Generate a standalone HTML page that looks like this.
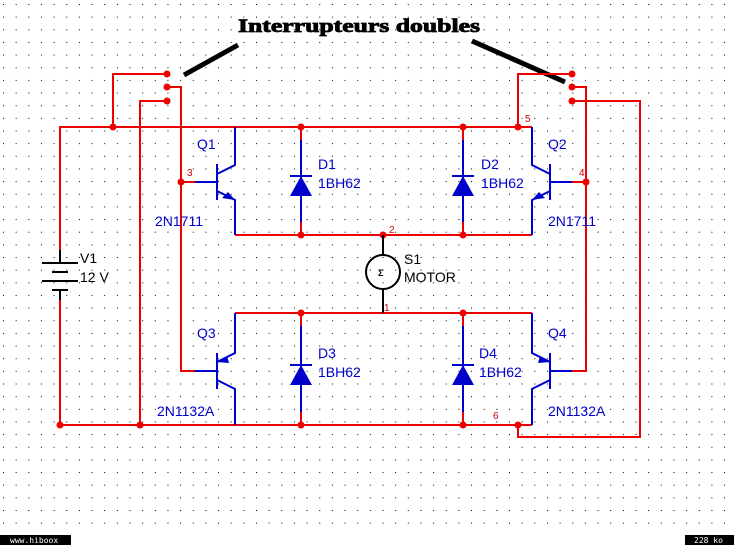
<!DOCTYPE html>
<html><head><meta charset="utf-8"><style>
html,body{margin:0;padding:0;background:#fff;}
svg{display:block;}
</style></head><body>
<svg width="734" height="545" viewBox="0 0 734 545" xmlns="http://www.w3.org/2000/svg" font-family="'Liberation Sans',sans-serif">
<defs>
<pattern id="g" x="3" y="4" width="12.65" height="12.65" patternUnits="userSpaceOnUse">
<rect x="0" y="0" width="1" height="1" fill="#000"/>
</pattern>
</defs>
<rect width="734" height="545" fill="#fff"/>
<rect width="734" height="530" fill="url(#g)"/>

<!-- title -->
<text x="238" y="32" style="font-family:'Liberation Serif',serif;font-weight:bold;font-size:19px" fill="#000" stroke="#000" stroke-width="0.8" textLength="242" lengthAdjust="spacingAndGlyphs">Interrupteurs doubles</text>
<line x1="184" y1="75" x2="238" y2="45" stroke="#000" stroke-width="5"/>
<line x1="472" y1="41" x2="565" y2="82" stroke="#000" stroke-width="5"/>

<g stroke="#e00" stroke-width="2" fill="none">
<polyline points="532,127 60,127 60,250"/>
<polyline points="60,300 60,425 532,425"/>
<line x1="235" y1="235" x2="532" y2="235"/>
<line x1="235" y1="313" x2="532" y2="313"/>
<polyline points="167,74 113,74 113,127"/>
<polyline points="167,87 181,87 181,371 195,371"/>
<line x1="181" y1="182" x2="195" y2="182"/>
<polyline points="167,101 140,101 140,425"/>
<polyline points="572,74 518,74 518,127"/>
<polyline points="572,87 586,87 586,371 572,371"/>
<line x1="586" y1="182" x2="572" y2="182"/>
<polyline points="572,101 640,101 640,437 518,437 518,425"/>
<line x1="301" y1="127" x2="301" y2="140"/><line x1="301" y1="222" x2="301" y2="235"/>
<line x1="463" y1="127" x2="463" y2="140"/><line x1="463" y1="222" x2="463" y2="235"/>
<line x1="301" y1="313" x2="301" y2="326"/><line x1="301" y1="412" x2="301" y2="425"/>
<line x1="463" y1="313" x2="463" y2="326"/><line x1="463" y1="412" x2="463" y2="425"/>
</g>

<g fill="#e00">
<circle cx="113" cy="127" r="3.5"/><circle cx="301" cy="127" r="3.5"/><circle cx="463" cy="127" r="3.5"/><circle cx="518" cy="127" r="3.5"/>
<circle cx="301" cy="235" r="3.5"/><circle cx="383" cy="235" r="3.5"/><circle cx="463" cy="235" r="3.5"/>
<circle cx="301" cy="313" r="3.5"/><circle cx="463" cy="313" r="3.5"/>
<circle cx="60" cy="425" r="3.5"/><circle cx="140" cy="425" r="3.5"/><circle cx="301" cy="425" r="3.5"/><circle cx="463" cy="425" r="3.5"/><circle cx="518" cy="425" r="3.5"/>
<circle cx="181" cy="182" r="3.5"/><circle cx="586" cy="182" r="3.5"/>
<circle cx="167" cy="74" r="3.5"/><circle cx="167" cy="87" r="3.5"/><circle cx="167" cy="101" r="3.5"/>
<circle cx="572" cy="74" r="3.5"/><circle cx="572" cy="87" r="3.5"/><circle cx="572" cy="101" r="3.5"/>
</g>

<g stroke="#000" stroke-width="2">
<line x1="60" y1="250" x2="60" y2="263"/><line x1="60" y1="290" x2="60" y2="300"/>
<line x1="42" y1="263" x2="78" y2="263"/><line x1="52" y1="272" x2="68" y2="272"/>
<line x1="42" y1="281" x2="78" y2="281"/><line x1="52" y1="290" x2="68" y2="290"/>
</g>
<g stroke="#000" stroke-width="2" fill="none">
<line x1="383" y1="235" x2="383" y2="255"/><line x1="383" y1="289" x2="383" y2="313"/>
<circle cx="383" cy="272" r="17"/>
</g>
<text x="378" y="276" font-size="9" font-weight="bold" fill="#000">Σ</text>

<g stroke="#00c" stroke-width="2" fill="none">
<polyline points="235,127 235,165 217,174"/><line x1="217" y1="164" x2="217" y2="200"/>
<line x1="195" y1="182" x2="217" y2="182"/>
<polyline points="217,191 235,200 235,235"/>
<polyline points="532,127 532,165 550,174"/><line x1="550" y1="164" x2="550" y2="200"/>
<line x1="572" y1="182" x2="550" y2="182"/>
<polyline points="550,191 532,200 532,235"/>
<polyline points="235,313 235,353 217,362"/><line x1="217" y1="353" x2="217" y2="389"/>
<line x1="195" y1="371" x2="217" y2="371"/>
<polyline points="217,380 235,389 235,425"/>
<polyline points="532,313 532,353 550,362"/><line x1="550" y1="353" x2="550" y2="389"/>
<line x1="572" y1="371" x2="550" y2="371"/>
<polyline points="550,380 532,389 532,425"/>
<line x1="301" y1="140" x2="301" y2="222"/><line x1="290" y1="176" x2="312" y2="176"/>
<line x1="463" y1="140" x2="463" y2="222"/><line x1="452" y1="176" x2="474" y2="176"/>
<line x1="301" y1="326" x2="301" y2="412"/><line x1="290" y1="365" x2="312" y2="365"/>
<line x1="463" y1="326" x2="463" y2="412"/><line x1="452" y1="365" x2="474" y2="365"/>
</g>
<g fill="#00c">
<polygon points="290,196 312,196 301,176"/><polygon points="452,196 474,196 463,176"/>
<polygon points="290,385 312,385 301,365"/><polygon points="452,385 474,385 463,365"/>
<polygon points="235,200 222,198 228,192"/>
<polygon points="532,200 545,198 539,192"/>
<polygon points="217,362 227,356 229,363"/>
<polygon points="550,362 540,356 538,363"/>
</g>

<g fill="#00c" font-size="14">
<text x="197" y="149">Q1</text><text x="155" y="226">2N1711</text>
<text x="548" y="149">Q2</text><text x="548" y="226">2N1711</text>
<text x="197" y="338">Q3</text><text x="157" y="416">2N1132A</text>
<text x="548" y="338">Q4</text><text x="548" y="416">2N1132A</text>
<text x="318" y="169">D1</text><text x="318" y="188">1BH62</text>
<text x="481" y="169">D2</text><text x="481" y="188">1BH62</text>
<text x="318" y="358">D3</text><text x="318" y="377">1BH62</text>
<text x="479" y="358">D4</text><text x="479" y="377">1BH62</text>
</g>
<g fill="#000" font-size="14">
<text x="80" y="263">V1</text><text x="80" y="282">12 V</text>
<text x="404" y="264">S1</text><text x="404" y="282">MOTOR</text>
</g>
<g fill="#c00" font-size="10">
<text x="187" y="176">3</text><text x="525" y="122">5</text><text x="579" y="176">4</text>
<text x="389" y="233">2</text><text x="384" y="311">1</text><text x="493" y="419">6</text>
</g>

<rect x="0" y="535" width="71" height="10" fill="#000"/>
<text x="10" y="543" style="font-family:'DejaVu Sans Mono',monospace;font-size:8px" fill="#fff">www.hiboox</text>
<rect x="685" y="535" width="49" height="10" fill="#000"/>
<text x="694" y="543" style="font-family:'DejaVu Sans Mono',monospace;font-size:8px" fill="#fff">228 ko</text>
</svg>
</body></html>
